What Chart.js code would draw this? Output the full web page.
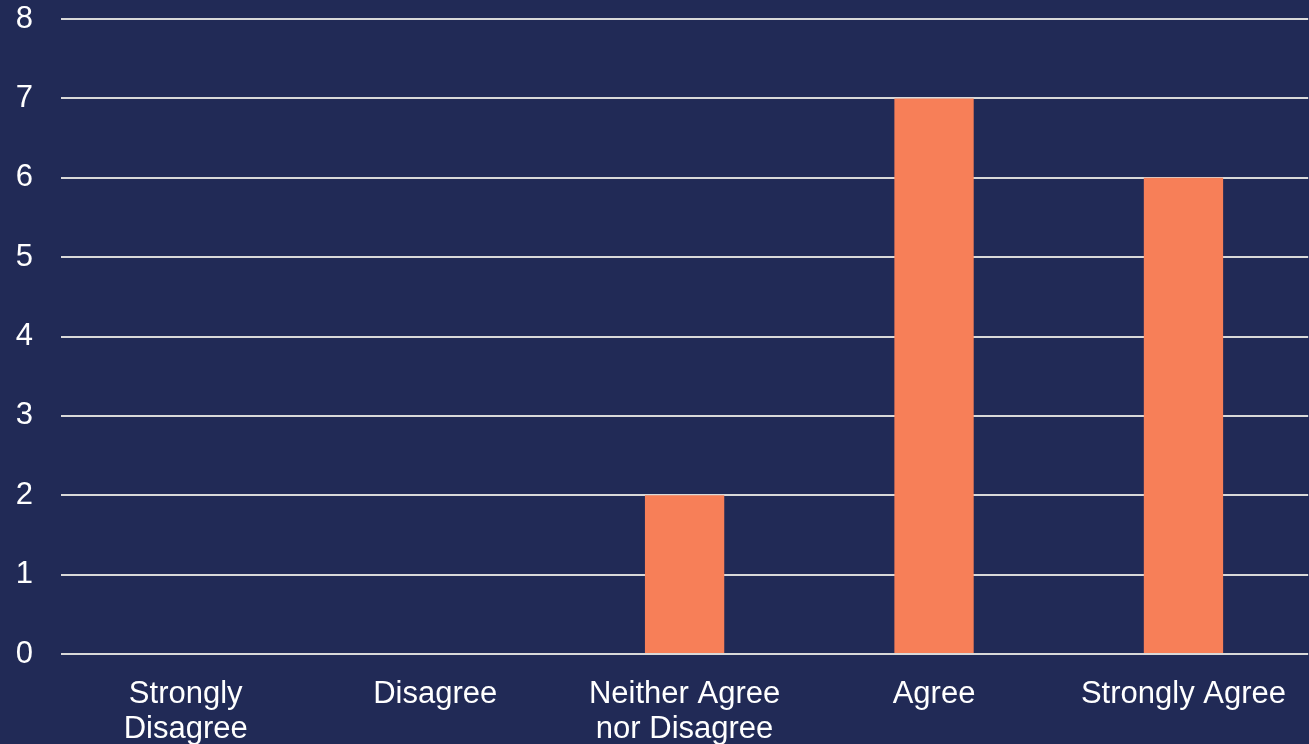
<!DOCTYPE html>
<html>
<head>
<meta charset="utf-8">
<script src="https://cdn.jsdelivr.net/npm/chart.js@4"></script>
<style>
  html, body { margin: 0; padding: 0; background: #212a56; }
  #wrap { width: 1309px; height: 744px; }
</style>
</head>
<body>
<div id="wrap"><canvas id="myChart"></canvas></div>
<script>
var categories = [["Strongly", "Disagree"], "Disagree", ["Neither Agree", "nor Disagree"], "Agree", "Strongly Agree"];
var counts = [0, 0, 2, 7, 6];
var yTicks = [0, 1, 2, 3, 4, 5, 6, 7, 8];

Chart.defaults.font.family = "'Liberation Sans', Arial, sans-serif";
Chart.defaults.font.size = 31;
Chart.defaults.color = '#ffffff';

var ctx = document.getElementById("myChart");
var myChart = new Chart(ctx, {
    type: 'bar',
    data: {
        labels: categories,
        datasets: [{
            data: counts,
            backgroundColor: '#f77f58',
            barPercentage: 0.318,
            categoryPercentage: 1
        }]
    },
    options: {
        responsive: true,
        maintainAspectRatio: false,
        animation: false,
        layout: { padding: { top: 19, right: 0, bottom: 0, left: 0 } },
        plugins: {
            legend: { display: false },
            tooltip: { enabled: false }
        },
        scales: {
            x: {
                grid: { display: false, drawTicks: false },
                border: { display: false },
                ticks: { padding: 23, maxRotation: 0, autoSkip: false, font: { lineHeight: 1.13 } },
                afterFit: function (scale) { scale.height = 90; }
            },
            y: {
                min: yTicks[0],
                max: yTicks[yTicks.length - 1],
                grid: { color: '#d9d9d9', lineWidth: 2, drawTicks: false },
                border: { display: false },
                ticks: { stepSize: 1, padding: 28 },
                afterFit: function (scale) {
                    scale.width = 61;
                    scale.paddingTop = 0;
                    scale.paddingBottom = 0;
                }
            }
        }
    }
});
</script>
</body>
</html>
